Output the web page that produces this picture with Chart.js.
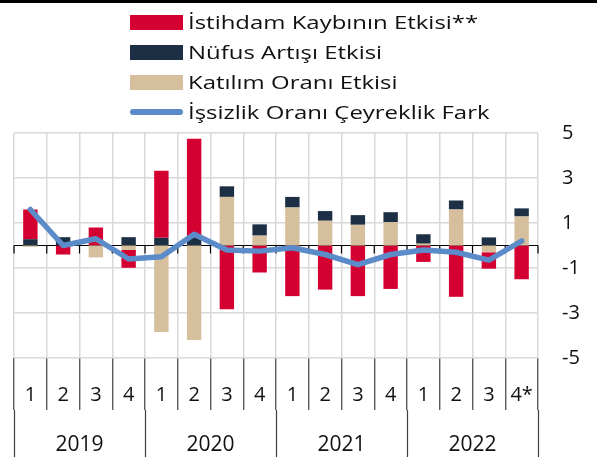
<!DOCTYPE html>
<html>
<head>
<meta charset="utf-8">
<script src="https://cdn.jsdelivr.net/npm/chart.js@4.4.0/dist/chart.umd.min.js"></script>
<style>
  html, body { margin: 0; padding: 0; background: #fff; }
  #wrap { position: relative; width: 597px; height: 457px; overflow: hidden; }
  #topline { position: absolute; left: 0; top: 0; width: 597px; height: 3px; background: #000; }
  #chart { position: absolute; left: 0; top: 0; }
  #legend { position: absolute; left: 130px; top: 7px; font-family: 'Open Sans', sans-serif; color: #111; }
  .row { display: flex; align-items: center; height: 30px; }
  .mark { width: 53px; flex: none; }
  .txt { margin-left: 5px; font-size: 19px; white-space: nowrap; transform: scaleX(1.26); transform-origin: left center; }
</style>
</head>
<body>
<div id="wrap">
  <canvas id="chart" width="597" height="457"></canvas>
  <div id="topline"></div>
  <div id="legend"></div>
</div>
<script>
// categories
const quarters = ['1', '2', '3', '4', '1', '2', '3', '4', '1', '2', '3', '4', '1', '2', '3', '4*']
const years = ['2019', '2020', '2021', '2022']
const yTicks = [5, 3, 1, -1, -3, -5]

// series values
const istihdam = [1.32, -0.4, 0.8, -0.79, 2.98, 4.4, -2.83, -1.2, -2.25, -1.96, -2.25, -1.93, -0.73, -2.28, -0.73, -1.5]
const nufus = [0.28, 0.37, 0, 0.37, 0.34, 0.35, 0.47, 0.5, 0.47, 0.43, 0.43, 0.44, 0.42, 0.4, 0.36, 0.36]
const katilim = [-0.06, 0, -0.53, -0.2, -3.84, -4.2, 2.16, 0.44, 1.69, 1.1, 0.92, 1.04, 0.08, 1.6, -0.3, 1.29]
const issizlik = [1.6, 0.0, 0.3, -0.6, -0.5, 0.5, -0.2, -0.25, -0.1, -0.4, -0.85, -0.4, -0.2, -0.3, -0.65, 0.2]

const RED = '#d50032'
const NAVY = '#1d2f45'
const BEIGE = '#d5bf9c'
const BLUE = '#5b8bc8'

Chart.defaults.font.family = "'Open Sans', sans-serif"
Chart.defaults.color = '#111'

// legend in the order shown on the picture
const legendItems = [
  { label: 'İstihdam Kaybının Etkisi**', color: RED, line: false },
  { label: 'Nüfus Artışı Etkisi', color: NAVY, line: false },
  { label: 'Katılım Oranı Etkisi', color: BEIGE, line: false },
  { label: 'İşsizlik Oranı Çeyreklik Fark', color: BLUE, line: true },
]
const legendDiv = document.getElementById('legend')
legendItems.forEach((item) => {
  const row = document.createElement('div')
  row.className = 'row'
  const mark = document.createElement('div')
  mark.className = 'mark'
  mark.style.background = item.color
  mark.style.height = item.line ? '6px' : '15px'
  if (item.line) mark.style.borderRadius = '3px'
  const txt = document.createElement('span')
  txt.className = 'txt'
  txt.textContent = item.label
  row.appendChild(mark)
  row.appendChild(txt)
  legendDiv.appendChild(row)
})

// zero line with small tick marks, like the excel category axis
const zeroAxis = {
  id: 'zeroAxis',
  beforeDatasetsDraw(chart) {
    const { ctx, scales: { x, y } } = chart
    const y0 = y.getPixelForValue(0)
    ctx.save()
    ctx.strokeStyle = '#000'
    ctx.lineWidth = 1.2
    ctx.beginPath()
    ctx.moveTo(x.left, y0)
    ctx.lineTo(x.right, y0)
    for (let i = 0; i <= quarters.length; i++) {
      const px = x.getPixelForValue(i - 0.5)
      ctx.moveTo(px, y0)
      ctx.lineTo(px, y0 + 8)
    }
    ctx.stroke()
    ctx.restore()
  },
}

const ctx = document.getElementById('chart').getContext('2d')
new Chart(ctx, {
  type: 'bar',
  data: {
    labels: quarters,
    datasets: [
      {
        type: 'line',
        label: 'İşsizlik Oranı Çeyreklik Fark',
        data: issizlik,
        borderColor: BLUE,
        borderWidth: 5.5,
        borderCapStyle: 'round',
        borderJoinStyle: 'round',
        pointRadius: 0,
        tension: 0,
        order: 0,
      },
      {
        label: 'Katılım Oranı Etkisi',
        data: katilim,
        backgroundColor: BEIGE,
        order: 1,
      },
      {
        label: 'Nüfus Artışı Etkisi',
        data: nufus,
        backgroundColor: NAVY,
        order: 1,
      },
      {
        label: 'İstihdam Kaybının Etkisi**',
        data: istihdam,
        backgroundColor: RED,
        order: 1,
      },
    ],
  },
  options: {
    responsive: false,
    animation: false,
    devicePixelRatio: 1,
    barPercentage: 0.44,
    categoryPercentage: 1,
    layout: { padding: { top: 133, left: 14, right: 0, bottom: 0 } },
    plugins: {
      legend: { display: false },
      tooltip: { enabled: false },
    },
    scales: {
      x: {
        stacked: true,
        offset: true,
        weight: 0,
        grid: { offset: true, color: '#d9d9d9', lineWidth: 1.5, tickColor: '#404040', tickLength: 52, tickWidth: 1.2 },
        border: { display: false },
        ticks: { font: { size: 20 }, padding: -27, maxRotation: 0, autoSkip: false },
        afterFit: (s) => { s.height = 52 },
      },
      x2: {
        type: 'category',
        labels: years,
        position: 'bottom',
        offset: true,
        weight: 1,
        grid: { offset: true, drawOnChartArea: false, tickColor: '#404040', tickLength: 47, tickWidth: 1.2 },
        border: { display: false },
        ticks: { font: { size: 21 }, padding: -25, maxRotation: 0, autoSkip: false },
        afterFit: (s) => { s.height = 47 },
      },
      y: {
        position: 'right',
        stacked: true,
        min: -5,
        max: 5,
        afterBuildTicks: (axis) => { axis.ticks = yTicks.map((v) => ({ value: v })) },
        grid: { color: '#d9d9d9', lineWidth: 1.5, drawTicks: false },
        border: { display: false },
        ticks: { font: { size: 20 }, padding: 24 },
        afterFit: (s) => { s.width = 59 },
      },
    },
  },
  plugins: [zeroAxis],
})
</script>
</body>
</html>
